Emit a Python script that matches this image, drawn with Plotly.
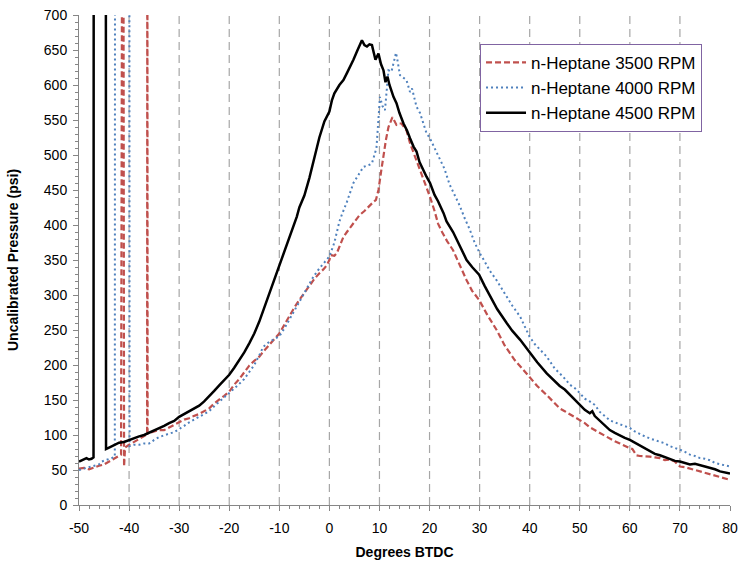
import plotly.graph_objects as go

# ---------------- data ----------------
x_3500 = [-50, -49, -48, -47, -46, -45, -44, -43, -42, -41.6, -41.35, -41.15, -41.0, -40.8, -40, -39, -38, -37,
          -36.4, -36.35, -36.3, -35, -34, -33, -32, -31, -30, -29, -28, -27.5, -26, -25, -24, -23, -22, -21, -20,
          -19, -18, -17, -16, -15, -14, -13.2, -12, -11, -10, -9, -8, -7, -6, -5, -4, -3, -2, -1, -0.5, 0, 0.3, 1,
          1.5, 2, 2.8, 3.5, 4, 4.8, 6, 7, 8, 8.8, 9.3, 9.8, 10.3, 10.8, 11.3, 11.8, 12.6, 13.4, 14, 14.4, 15.4,
          16.1, 17, 18.1, 19, 20.1, 21, 21.7, 22.5, 23.5, 24.7, 26, 27.4, 28.5, 29.9, 31.5, 33.4, 35, 36.1, 37,
          38.5, 39.9, 41.5, 43.4, 45, 46, 47, 48, 49, 50, 51, 52, 53, 54, 55, 56, 57, 58, 59, 60, 60.5, 61.3, 62,
          63, 64, 65, 66, 67, 68, 69, 70, 71, 72, 73, 74, 75.3, 76, 77, 78, 79, 80]
p_3500 = [52, 53, 51, 54, 56, 58, 62, 66, 70, 72, 1000, 1000, 55, 82, 86, 90, 94, 98,
          101, 1000, 102, 105, 107, 107, 111, 114, 118, 122, 124, 126, 130, 134, 138, 145, 150, 156, 162,
          172, 180, 190, 199, 206, 212, 219, 228, 237, 245, 258, 270, 282, 293, 303, 313, 323, 331, 338, 343, 350, 357, 356,
          360, 370, 383, 390, 395, 402, 414, 420, 428, 433, 436, 450, 475, 502, 522, 540, 554, 543, 545, 545, 535,
          517, 500, 479, 462, 440, 420, 402, 390, 377, 364, 342, 321, 306, 293, 272, 250, 228, 217, 207,
          195, 183, 170, 157, 145, 138, 134, 130, 126, 121, 117, 111, 107, 102, 98, 95, 91, 88, 84, 81, 80, 71, 70,
          70, 69, 68, 67, 64, 65, 62, 55, 54, 52, 50, 48, 45, 44, 41, 40, 38, 36]

x_4000 = [-50, -49, -48, -47, -46, -45.5, -44, -43.5, -42.85, -42.8, -39.95, -39.9, -39, -38, -37, -36, -35.5, -35,
          -34, -33, -32, -31, -30, -29, -28, -27, -26, -25, -24, -23, -22, -21, -20, -19, -18, -17, -16, -15, -14,
          -13.2, -12, -11, -10, -9, -8, -7, -6.5, -5, -4, -3.2, -2, -1, 0, 1, 2, 2.5, 3.5, 4.8, 6, 6.8, 8, 8.5,
          9.4, 10.1, 10.6, 11.1, 11.8, 12.4, 12.8, 13.3, 13.6, 14.1, 15.4, 16.1, 16.5, 17.4, 18.1, 19.4, 20, 21,
          22, 23, 24, 25, 26, 27, 28, 29, 30, 31, 32, 33.4, 35.4, 36.5, 38.1, 39, 40, 41, 42, 43.4, 45, 46, 46.7,
          48, 49, 50, 51, 52, 53, 54, 55, 56, 57, 58, 59, 60, 61, 62, 63, 64, 65, 66, 67, 68, 69, 70, 71, 72, 73,
          74, 75, 76, 77, 78, 79, 80]
p_4000 = [50, 52, 55, 56, 58, 62, 65, 67, 69, 1000, 1000, 84, 86, 86, 88, 88, 90, 93,
          97, 100, 102, 104, 108, 113, 118, 122, 126, 130, 134, 141, 148, 154, 160, 166, 173, 180, 190, 200, 214,
          226, 233, 237, 241, 252, 265, 277, 283, 303, 315, 326, 338, 347, 355, 375, 405, 415, 433, 460, 474, 483, 486, 488,
          510, 583, 570, 564, 621, 619, 631, 646, 635, 614, 607, 590, 595, 569, 560, 531, 525, 510,
          493, 480, 458, 444, 428, 410, 394, 375, 360, 348, 335, 321, 298, 285, 269, 255, 240, 230, 222, 212, 195, 188, 183,
          172, 167, 160, 152, 148, 143, 133, 127, 121, 118, 115, 112, 110, 105, 101, 98, 95, 93, 90, 88, 84, 82, 79, 76, 72, 70,
          67, 66, 64, 60, 58, 56, 55]

x_4500 = [-50, -49, -48.5, -48, -47.5, -47.1, -47.0, -44.7, -44.6, -44, -43, -42, -41, -40, -39, -38, -37, -36, -35,
          -34, -33, -32, -31, -30, -29, -28, -27, -26, -25, -24, -23, -22, -21, -20, -19, -18, -17, -16, -15, -14,
          -13, -12, -11, -10, -9, -8, -7, -6.5, -6, -5, -4, -3, -2.5, -2, -1, 0, 0.5, 1, 2, 2.8, 3.5, 4, 4.8, 5.5,
          6, 6.5, 7, 7.5, 8, 8.5, 9.2, 9.8, 10.3, 10.8, 11.2, 11.6, 12, 12.8, 13.4, 14, 14.8, 15.5, 16.1, 16.8, 17.4,
          18, 19.4, 20.1, 21, 21.7, 22.8, 23.4, 24.7, 25.4, 26.5, 27.4, 28.5, 29.9, 31, 32.1, 33.5, 35.4, 36.5,
          38.1, 39.9, 41.5, 43.4, 45, 46, 47, 48, 49, 50, 51, 52, 52.5, 53, 54, 55, 56, 57, 58, 59, 60, 61, 62, 63,
          64, 65, 66, 67, 68, 69, 70, 71, 72, 73, 74, 75, 76, 77, 78, 79, 80]
p_4500 = [62, 65, 67, 65, 66, 68, 2000, 2000, 80, 82, 85, 89, 90, 93, 95, 98, 100, 103, 106,
          110, 113, 117, 120, 126, 130, 134, 137, 142, 148, 155, 163, 171, 178, 186, 196, 207, 218, 231, 245, 262,
          282, 300, 320, 340, 360, 382, 403, 412, 425, 442, 467, 495, 512, 525, 548, 562, 578, 588, 600, 607, 617, 624, 636, 648,
          656, 664, 657, 655, 658, 657, 636, 645, 630, 621, 604, 612, 600, 583, 574, 560, 545, 535, 524, 512, 505,
          490, 469, 460, 443, 434, 417, 405, 390, 379, 364, 350, 340, 329, 313, 298, 280, 260, 249,
          236, 219, 204, 188, 176, 170, 165, 158, 151, 144, 136, 131, 134, 127, 120, 113, 107, 103, 99, 96, 93, 89, 85, 80,
          76, 73, 71, 68, 66, 63, 62, 60, 58, 59, 57, 55, 54, 51, 48, 47, 45]

series_names = ["n-Heptane 3500 RPM", "n-Heptane 4000 RPM", "n-Heptane 4500 RPM"]
x_ticks = [-50, -40, -30, -20, -10, 0, 10, 20, 30, 40, 50, 60, 70, 80]
x_tick_text = ["-50", "-40", "-30", "-20", "-10", "0", "10", "20", "30", "40", "50", "60", "70", "80"]
y_ticks = list(range(0, 701, 50))
grid_x = [-40, -30, -20, -10, 0, 10, 20, 30, 40, 50, 60, 70]

# ---------------- figure ----------------
FONT = "Liberation Sans, Arial, sans-serif"
fig = go.Figure()
fig.add_trace(go.Scatter(x=x_3500, y=p_3500, mode="lines", name=series_names[0],
                         line=dict(color="#C0504D", width=2.2, dash="6px,3px")))
fig.add_trace(go.Scatter(x=x_4000, y=p_4000, mode="lines", name=series_names[1],
                         line=dict(color="#4F81BD", width=2, dash="2px,3px")))
fig.add_trace(go.Scatter(x=x_4500, y=p_4500, mode="lines", name=series_names[2],
                         line=dict(color="#000000", width=2.5)))

shapes = [dict(type="line", xref="x", yref="paper", x0=g, x1=g, y0=0, y1=1,
               line=dict(color="#A6A6A6", width=1.2, dash="8px,5px"), layer="below")
          for g in grid_x]

fig.update_layout(
    width=742, height=570,
    margin=dict(l=79, r=12, t=15, b=65, autoexpand=False),
    paper_bgcolor="white", plot_bgcolor="white",
    font=dict(family=FONT, size=14, color="#000000"),
    shapes=shapes,
    showlegend=True,
    legend=dict(x=0.616, y=0.941, xanchor="left", yanchor="top",
                bgcolor="white", bordercolor="#8064A2", borderwidth=1,
                font=dict(family=FONT, size=17, color="#000000"),
                tracegroupgap=0, itemwidth=40),
    xaxis=dict(range=[-50, 80], tickvals=x_ticks, ticktext=x_tick_text, ticks="outside", ticklen=5,
               tickcolor="#868686", automargin=False, ticklabelstandoff=5,
               showline=True, linecolor="#868686", linewidth=1, showgrid=False, zeroline=False,
               tickfont=dict(family=FONT, size=14),
               minor=dict(dtick=2, ticks="outside", ticklen=3, tickcolor="#868686", showgrid=False),
               title=dict(text="<b>Degrees BTDC</b>", font=dict(family=FONT, size=14), standoff=12)),
    yaxis=dict(range=[0, 700], tickvals=y_ticks, ticks="outside", ticklen=5, tickcolor="#868686",
               automargin=False, ticklabelstandoff=3,
               showline=True, linecolor="#868686", linewidth=1, showgrid=False, zeroline=False,
               tickfont=dict(family=FONT, size=14),
               minor=dict(dtick=10, ticks="outside", ticklen=3, tickcolor="#868686", showgrid=False),
               title=dict(text="<b>Uncalibrated Pressure (psi)</b>", font=dict(family=FONT, size=14), standoff=21)),
)

# remove the browser's default 8px page margin so the figure fills the window exactly
fig.write_html("out.html", config={"displayModeBar": False},
               post_script="document.body.style.margin='0';document.body.style.overflow='hidden';")
